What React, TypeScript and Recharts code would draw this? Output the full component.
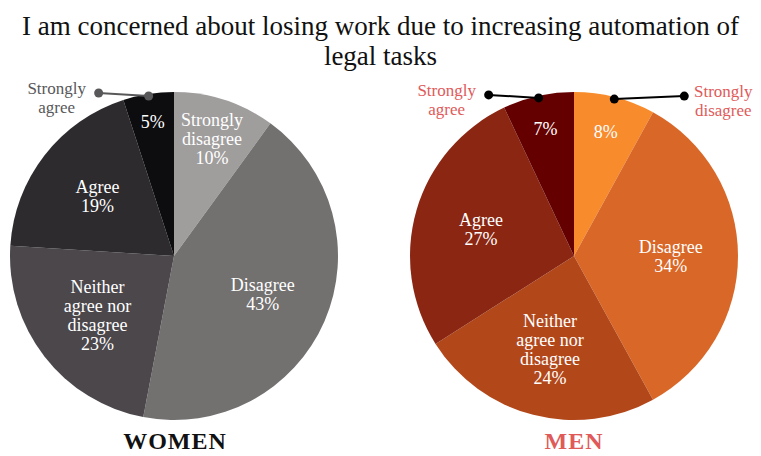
import { PieChart, Pie, Cell } from 'recharts';

const categories = ['Strongly disagree', 'Disagree', 'Neither agree nor disagree', 'Agree', 'Strongly agree'];
const womenValues = [10, 43, 23, 19, 5];
const menValues = [8, 34, 24, 27, 7];

// how each slice label is split into lines
const insideLines = [['Strongly', 'disagree'], ['Disagree'], ['Neither', 'agree nor', 'disagree'], ['Agree'], ['Strongly', 'agree']];
const outsideLines = [['Strongly', 'disagree'], [], [], [], ['Strongly', 'agree']];

const womenColors = ['#a09d9d', '#737070', '#4b474b', '#2d2b2e', '#0d0c0f'];
const menColors = ['#f88b2c', '#d96727', '#b2471a', '#8a2612', '#640000'];

const womenData = categories.map((name, i) => ({ name, value: womenValues[i] }));
const menData = categories.map((name, i) => ({ name, value: menValues[i] }));

const RAD = Math.PI / 180;
const FONT = '"Liberation Serif", "DejaVu Serif", serif';

const makeLabel = (outside: number[], outColor: string, dotColor: string) => (props: any) => {
  const { cx, cy, midAngle, outerRadius, index, value } = props;
  const isOut = outside.includes(index);
  // small slices get their label pushed towards the rim
  const rf = value < 12 ? 0.9 - value * 0.015 : 0.59;
  const r = outerRadius * rf;
  const x = cx + r * Math.cos(-midAngle * RAD);
  const y = cy + r * Math.sin(-midAngle * RAD);
  const lines = isOut ? [] : insideLines[index];
  const all = [...lines, `${value}%`];
  const lh = 19;
  const y0 = y - ((all.length - 1) * lh) / 2;
  const inside = (
    <text x={x} y={y0} fill="#fff" textAnchor="middle" dominantBaseline="central" style={{ fontFamily: FONT, fontSize: 18 }}>
      {all.map((t, i) => (
        <tspan key={i} x={x} y={y0 + i * lh}>{t}</tspan>
      ))}
    </text>
  );
  if (!isOut) return <g>{inside}</g>;

  // leader line with dots from the slice edge to the outer label
  const er = outerRadius - 2;
  const ex = cx + er * Math.cos(-midAngle * RAD);
  const ey = cy + er * Math.sin(-midAngle * RAD);
  const left = ex < cx;
  const lx = left ? ex - 50 : ex + 70;
  const ly = ey - 3;
  const tx = left ? lx - 42 : lx + 39;
  const ol = outsideLines[index];
  return (
    <g>
      {inside}
      <line x1={ex} y1={ey} x2={lx} y2={ly} stroke={dotColor} strokeWidth={2} />
      <circle cx={ex} cy={ey} r={4.5} fill={dotColor} />
      <circle cx={lx} cy={ly} r={4.5} fill={dotColor} />
      <text x={tx} fill={outColor} textAnchor="middle" dominantBaseline="central" style={{ fontFamily: FONT, fontSize: 17 }}>
        {ol.map((t, i) => (
          <tspan key={i} x={tx} y={ly - 5 + i * 19}>{t}</tspan>
        ))}
      </text>
    </g>
  );
};

export default function App() {
  return (
    <div style={{ position: 'absolute', left: 0, top: 0, width: 761, height: 456, background: '#fff', fontFamily: FONT }}>
      <div style={{ position: 'absolute', left: 0, top: 11, width: 761, textAlign: 'center', fontSize: 27, lineHeight: '30px', color: '#111' }}>
        I am concerned about losing work due to increasing automation of
        <br />
        legal tasks
      </div>
      <PieChart width={761} height={456} margin={{ top: 0, right: 0, bottom: 0, left: 0 }} style={{ position: 'absolute', left: 0, top: 0 }}>
        <Pie
          data={womenData}
          dataKey="value"
          nameKey="name"
          cx={174}
          cy={256}
          outerRadius={164}
          startAngle={90}
          endAngle={-270}
          stroke="none"
          labelLine={false}
          label={makeLabel([4], '#58585a', '#58585a')}
          isAnimationActive={false}
        >
          {womenData.map((d, i) => (
            <Cell key={d.name} fill={womenColors[i]} />
          ))}
        </Pie>
        <Pie
          data={menData}
          dataKey="value"
          nameKey="name"
          cx={574}
          cy={256}
          outerRadius={164}
          startAngle={90}
          endAngle={-270}
          stroke="none"
          labelLine={false}
          label={makeLabel([0, 4], '#e05a5a', '#000')}
          isAnimationActive={false}
        >
          {menData.map((d, i) => (
            <Cell key={d.name} fill={menColors[i]} />
          ))}
        </Pie>
      </PieChart>
      <div style={{ position: 'absolute', left: 75, top: 428, width: 200, textAlign: 'center', fontSize: 24, fontWeight: 'bold', color: '#111', letterSpacing: 1 }}>
        WOMEN
      </div>
      <div style={{ position: 'absolute', left: 474, top: 428, width: 200, textAlign: 'center', fontSize: 24, fontWeight: 'bold', color: '#e05a5a', letterSpacing: 1 }}>
        MEN
      </div>
    </div>
  );
}
